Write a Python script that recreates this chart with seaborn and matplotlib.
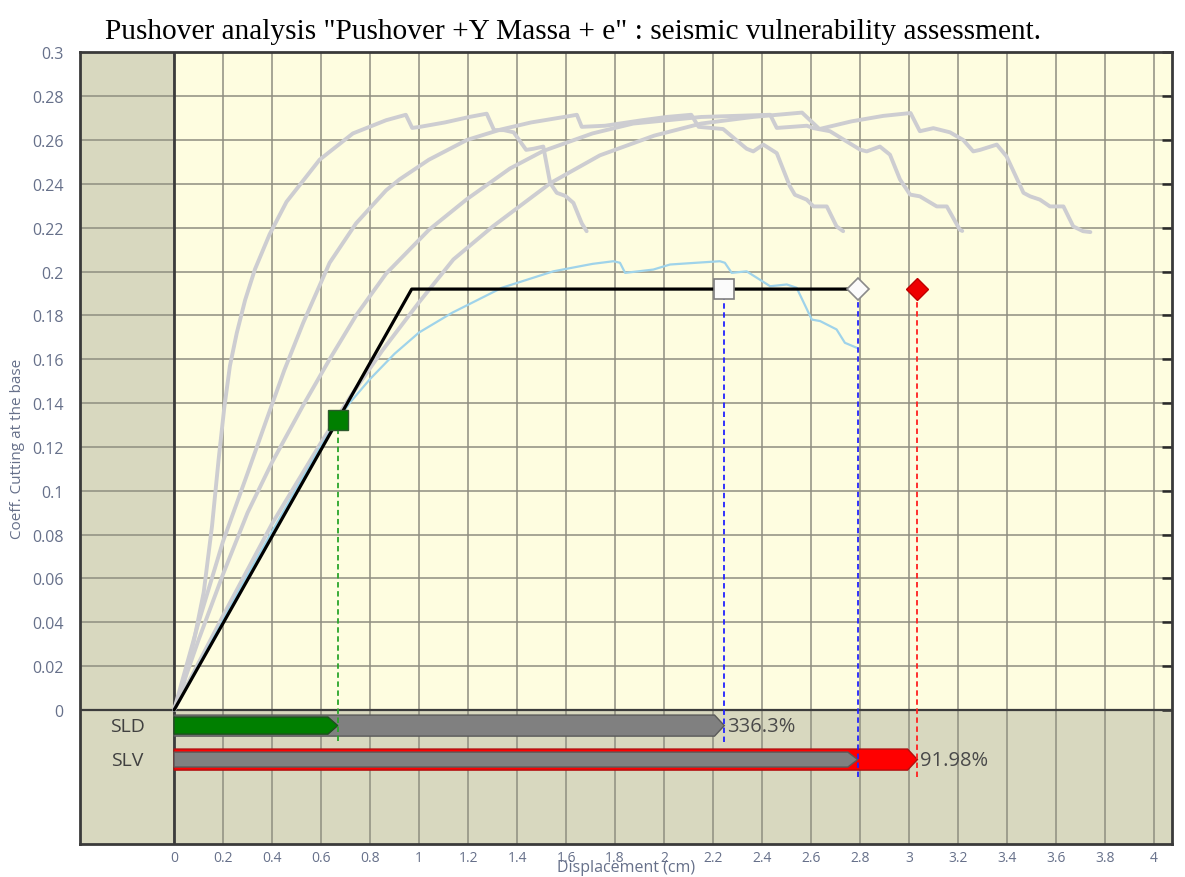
import numpy as np
import pandas as pd
import matplotlib
matplotlib.use("Agg")
import matplotlib.pyplot as plt
from matplotlib.patches import Polygon, Rectangle
import seaborn as sns

# ---------------- data ----------------
# grey pushover curves (other load patterns)
g1_x = [0, 0.02, 0.04, 0.08, 0.121, 0.155, 0.182, 0.205, 0.228, 0.256, 0.29, 0.33, 0.39, 0.459, 0.594, 0.73,
        0.865, 0.946, 0.972, 1.004, 1.105, 1.205, 1.276, 1.306, 1.346, 1.386, 1.437, 1.467, 1.507, 1.535, 1.562,
        1.597, 1.630, 1.664, 1.684]
g1_y = [0, 0.006, 0.0126, 0.031, 0.0537, 0.084, 0.1145, 0.138, 0.157, 0.172, 0.187, 0.201, 0.217, 0.2318, 0.251, 0.263,
        0.269, 0.2715, 0.2655, 0.266, 0.268, 0.2705, 0.272, 0.2645, 0.2645, 0.2635, 0.2555, 0.256, 0.257, 0.2404, 0.2359,
        0.2345, 0.2313, 0.222, 0.2184]

g2_x = [0, 0.05, 0.1, 0.2, 0.3, 0.378, 0.45, 0.527, 0.635, 0.743, 0.865, 0.92, 1.04, 1.195, 1.331,
        1.457, 1.603, 1.644, 1.664, 1.759, 1.909, 2.01, 2.111, 2.141, 2.241, 2.337, 2.364, 2.405, 2.460,
        2.513, 2.534, 2.582, 2.610, 2.664, 2.704, 2.731]
g2_y = [0, 0.02, 0.04, 0.077, 0.108, 0.1326, 0.155, 0.1766, 0.204, 0.222, 0.237, 0.242, 0.251, 0.26, 0.2647,
        0.268, 0.2707, 0.2715, 0.266, 0.2665, 0.269, 0.2705, 0.2715, 0.266, 0.265, 0.256, 0.2548, 0.2579, 0.254,
        0.239, 0.235, 0.2328, 0.2297, 0.2297, 0.2206, 0.2184]

g3_x = [0, 0.05, 0.1, 0.2, 0.3, 0.4, 0.527, 0.635, 0.743, 0.865, 1.04, 1.195, 1.371, 1.507, 1.708, 1.874,
        2.151, 2.433, 2.460, 2.583, 2.610, 2.677, 2.800, 2.827, 2.881, 2.922, 2.963, 3.004, 3.044, 3.113,
        3.154, 3.207, 3.217]
g3_y = [0, 0.016, 0.032, 0.062, 0.09, 0.113, 0.139, 0.16, 0.18, 0.199, 0.219, 0.233, 0.247, 0.255, 0.263, 0.2675,
        0.2705, 0.2715, 0.2655, 0.2665, 0.2654, 0.264, 0.2556, 0.2548, 0.257, 0.2533, 0.242, 0.2351, 0.2343, 0.2297,
        0.2297, 0.2191, 0.2185]

g4_x = [0, 0.2, 0.4, 0.6, 0.72, 0.85, 1.0, 1.14, 1.3, 1.537, 1.738, 1.960, 2.151, 2.362, 2.563, 2.634, 2.765,
        2.895, 3.006, 3.044, 3.099, 3.167, 3.221, 3.262, 3.290, 3.358, 3.398, 3.467, 3.494, 3.534, 3.575,
        3.630, 3.670, 3.710, 3.740]
g4_y = [0, 0.043, 0.085, 0.122, 0.143, 0.164, 0.186, 0.2055, 0.2205, 0.2404, 0.253, 0.262, 0.2675, 0.2705, 0.2725, 0.265, 0.2685,
        0.271, 0.2723, 0.264, 0.2654, 0.2635, 0.26, 0.2548, 0.2555, 0.2579, 0.2525, 0.2359, 0.2343, 0.2328, 0.2297,
        0.2297, 0.2206, 0.2184, 0.218]

# light blue curve (analysed pushover)
blue_x = [0, 0.1, 0.2, 0.3, 0.4, 0.5, 0.6, 0.668, 0.72, 0.8, 0.9, 1.0, 1.135, 1.338, 1.548, 1.708,
          1.793, 1.820, 1.841, 1.956, 2.024, 2.131, 2.228, 2.248, 2.276, 2.337, 2.433, 2.501, 2.541,
          2.603, 2.637, 2.704, 2.738, 2.787]
blue_y = [0, 0.0205, 0.041, 0.0615, 0.0815, 0.101, 0.1205, 0.1325, 0.1405, 0.151, 0.1625, 0.1722, 0.1812, 0.1926, 0.2001, 0.2035,
          0.2047, 0.204, 0.1994, 0.2009, 0.2032, 0.204, 0.2047, 0.204, 0.1994, 0.2001, 0.1933, 0.1941, 0.1926,
          0.1781, 0.1774, 0.1736, 0.1675, 0.1652]

# bilinear equivalent system
bil_x = [0, 0.970, 2.79]
bil_y = [0, 0.192, 0.192]

# verification points (cm)
sld_demand = 0.668
sld_capacity = 2.246
slv_capacity = 2.79
slv_demand = 3.034
sld_text = "336.3%"
slv_text = "91.98%"
state_names = ["SLD", "SLV"]

x_ticks = [0, 0.2, 0.4, 0.6, 0.8, 1, 1.2, 1.4, 1.6, 1.8, 2, 2.2, 2.4, 2.6, 2.8, 3, 3.2, 3.4, 3.6, 3.8, 4]
y_ticks = [0, 0.02, 0.04, 0.06, 0.08, 0.1, 0.12, 0.14, 0.16, 0.18, 0.2, 0.22, 0.24, 0.26, 0.28, 0.3]

title = 'Pushover analysis "Pushover +Y Massa + e" : seismic vulnerability assessment.'

# ---------------- frame ----------------
sns.set_theme(style="white")
plt.rcParams['font.family'] = ['Open Sans', 'DejaVu Sans']

fig = plt.figure(figsize=(11.85, 8.78), dpi=100)
ax = fig.add_axes([0.0675, 0.0376, 0.9215, 0.9017])
ax.set_xlim(-0.384, 4.073)
ax.set_ylim(-0.0611, 0.3)
ax.set_facecolor('#d8d8bf')
ax.add_patch(Rectangle((0, 0), 5, 0.3, fc='#fefde0', ec='none', zorder=0.1))

tick_col = '#66708a'
ax.set_axisbelow(True)
ax.set_xticks(x_ticks)
ax.set_yticks(y_ticks)
ax.set_xticklabels([f"{v:g}" for v in x_ticks])
ax.set_yticklabels([f"{v:g}" for v in y_ticks])
ax.grid(True, color='#8e8e80', lw=1.1)
ax.axhline(0, color='#3c3c3c', lw=1.6, zorder=0.6)
ax.axvline(0, color='#3c3c3c', lw=2.0, zorder=0.6)
for s in ax.spines.values():
    s.set_color('#3a3a3a')
    s.set_linewidth(2)
ax.tick_params(axis='both', direction='in', length=7, width=1.8, color='#2a2a2a', labelcolor=tick_col)
ax.tick_params(axis='y', right=True, labelright=False, pad=12, labelsize=11.5)
ax.tick_params(axis='x', pad=4, labelsize=10)

# ---------------- curves ----------------
gray = pd.concat([
    pd.DataFrame({'curve': name, 'disp': xs, 'coef': ys})
    for name, xs, ys in [('g1', g1_x, g1_y), ('g2', g2_x, g2_y), ('g3', g3_x, g3_y), ('g4', g4_x, g4_y)]
])
sns.lineplot(data=gray, x='disp', y='coef', units='curve', estimator=None, sort=False,
             color='#cdcdd1', lw=2.8, ax=ax, legend=False, zorder=2)
sns.lineplot(x=blue_x, y=blue_y, sort=False, estimator=None, color='#9fd3ea', lw=1.6, ax=ax, zorder=3)
sns.lineplot(x=bil_x, y=bil_y, sort=False, estimator=None, color='black', lw=2.3, ax=ax, zorder=4)

y_sld = np.interp(sld_demand, bil_x, bil_y)
y_top = bil_y[-1]

# dashed drop lines
dash = (0, (3, 2))
ax.vlines(sld_demand, -0.014, y_sld, colors='#2aa52a', linestyles=dash, lw=1.3, zorder=5)
ax.vlines(sld_capacity, -0.0145, y_top, colors='#2222ff', linestyles=dash, lw=1.3, zorder=5)
ax.vlines(slv_capacity, -0.0306, y_top, colors='#2222ff', linestyles=dash, lw=1.3, zorder=5)
ax.vlines(slv_demand, -0.0306, y_top, colors='#ff2020', linestyles=dash, lw=1.3, zorder=5)

# markers
ax.plot(sld_demand, y_sld, 's', ms=15, mfc='#007f00', mec='#2d5a2d', mew=1, zorder=7)
ax.plot(sld_capacity, y_top, 's', ms=15, mfc='#fbfbfb', mec='#808080', mew=1.2, zorder=7)
ax.plot(slv_capacity, y_top, 'D', ms=11, mfc='#fbfbfb', mec='#8a8a8a', mew=1.2, zorder=7)
ax.plot(slv_demand, y_top, 'D', ms=11, mfc='#ee0000', mec='#c00000', mew=1, zorder=7)


# ---------------- verification bars ----------------
def arrow_bar(x_end, yc, half, fc, ec, z, tip=0.04):
    pts = [(0, yc - half), (x_end - tip, yc - half), (x_end, yc),
           (x_end - tip, yc + half), (0, yc + half)]
    ax.add_patch(Polygon(pts, closed=True, fc=fc, ec=ec, lw=1, zorder=z))


sld_y, slv_y = -0.0071, -0.0226
arrow_bar(sld_capacity, sld_y, 0.0048, '#808080', '#5a5a5a', 3)
arrow_bar(sld_demand, sld_y, 0.0039, '#007f00', '#1f4f1f', 4)
arrow_bar(slv_demand, slv_y, 0.0048, '#ff0000', '#b01010', 3)
arrow_bar(slv_capacity, slv_y, 0.0034, '#808080', '#5a5a5a', 4)

ax.text(sld_capacity + 0.01, sld_y, sld_text, fontsize=14.5, color='#4a4a4a', va='center', ha='left', zorder=8)
ax.text(slv_demand + 0.01, slv_y, slv_text, fontsize=14.5, color='#4a4a4a', va='center', ha='left', zorder=8)
for name, yy in zip(state_names, [sld_y, slv_y]):
    ax.text(-0.19, yy, name, fontsize=14, color='#404040', va='center', ha='center', zorder=8)

# ---------------- labels ----------------
ax.set_xlabel('Displacement (cm)', fontsize=11.5, color=tick_col)
ax.xaxis.label.set_va('center')
ax.xaxis.set_label_coords(0.5, -0.029)
ax.set_ylabel('Coeff. Cutting at the base', fontsize=11, color=tick_col)
ax.yaxis.label.set_va('center')
ax.yaxis.set_label_coords(-0.057, 0.5)

fig.text(0.4835, 0.964, title, family=['Liberation Serif', 'DejaVu Serif'], fontsize=21.2,
         ha='center', va='center', color='black')

fig.savefig('out.png', dpi=100)
